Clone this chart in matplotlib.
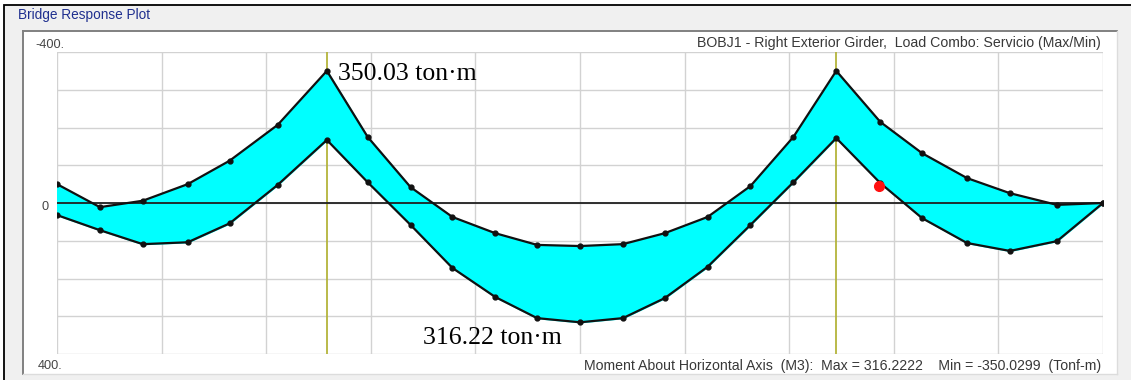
import matplotlib.pyplot as plt
from matplotlib.patches import Rectangle

# estaciones a lo largo del puente (0-100) y envolventes de momento (Tonf-m)
estaciones = [0.0, 4.1, 8.2, 12.5, 16.5, 21.1, 25.8,
              29.7, 33.8, 37.8, 41.9, 45.9, 50.0, 54.1, 58.1, 62.2, 66.3, 70.4, 74.5,
              78.7, 82.7, 87.0, 91.1, 95.6, 100.0]
momento_min = [-50, 11, -6, -50, -112, -207, -350,
               -175, -42, 37, 80, 111, 114, 109, 80, 37, -45, -175, -350,
               -215, -132, -66, -26, 5, 0]
momento_max = [32, 72, 109, 104, 54, -48, -167,
               -55, 58, 172, 249, 305, 316, 305, 252, 169, 58, -55, -172,
               -53, 40, 106, 127, 101, 0]
apoyos = [25.8, 74.5]
punto_rojo_x, punto_rojo_y = 78.6, -45

etiqueta_min = '350.03 ton·m'
etiqueta_max = '316.22 ton·m'
titulo = 'BOBJ1 - Right Exterior Girder,  Load Combo: Servicio (Max/Min)'
pie = 'Moment About Horizontal Axis  (M3):  Max = 316.2222    Min = -350.0299  (Tonf-m)'

W, H = 1131, 380
fig = plt.figure(figsize=(W / 100, H / 100), dpi=100)
fig.patch.set_facecolor('white')

# marco de la ventana (coordenadas en pixeles)
fondo = fig.add_axes([0, 0, 1, 1])
fondo.set_xlim(0, W)
fondo.set_ylim(H, 0)
fondo.axis('off')
fondo.add_patch(Rectangle((4, 5), 1200, 400, facecolor='#f0f0f0', edgecolor='black', lw=1.3))
fondo.add_patch(Rectangle((23, 31), 1094, 343, facecolor='white', edgecolor='none'))
fondo.plot([23, 1117], [31, 31], color='#808080', lw=1.4)
fondo.plot([23, 23], [31, 374], color='#808080', lw=1.4)
fondo.plot([23, 1117], [374, 374], color='#dcdcdc', lw=1)
fondo.plot([1117, 1117], [31, 374], color='#dcdcdc', lw=1)
fondo.text(18, 15, 'Bridge Response Plot', color='#1f2f8f', fontsize=9.8,
           family='Liberation Sans', va='center')
fondo.text(35, 45, '-400.', color='#454545', fontsize=9.2, family='Liberation Sans', va='center')
fondo.text(41, 207, '0', color='#454545', fontsize=9.2, family='Liberation Sans', va='center')
fondo.text(38, 366, '400.', color='#454545', fontsize=9.2, family='Liberation Sans', va='center')
fondo.text(1101, 43, titulo, color='#383838', fontsize=10.2, family='Liberation Sans',
           ha='right', va='center')
fondo.text(1101, 366, pie, color='#383838', fontsize=10.2, family='Liberation Sans',
           ha='right', va='center')

ax = fig.add_axes([57 / W, 1 - 354 / H, (1103 - 57) / W, (354 - 52) / H])
ax.set_xlim(0, 100)
ax.set_ylim(400, -400)
ax.set_facecolor('none')
ax.set_xticks(range(0, 101, 10))
ax.set_yticks(range(-400, 401, 100))
ax.tick_params(length=0, labelbottom=False, labelleft=False)
ax.grid(True, color='#d2d2d2', lw=1)
ax.set_axisbelow(True)
for s in ax.spines.values():
    s.set_visible(False)

for a in apoyos:
    ax.axvline(a, color='#b4b43c', lw=1.3, zorder=1)

ax.fill_between(estaciones, momento_min, momento_max, color='#00ffff', zorder=2)
ax.axhline(0, color='#202020', lw=1.3, zorder=3)
ax.plot(estaciones, momento_min, color='#111111', lw=1.6, marker='o', ms=3.5, zorder=4)
ax.plot(estaciones, momento_max, color='#111111', lw=1.6, marker='o', ms=3.5, zorder=4)
ax.plot(punto_rojo_x, punto_rojo_y, 'o', color='#ff1010', ms=7, zorder=5)

ax.text(26.9, -343, etiqueta_min, family='Liberation Serif', fontsize=18.5, va='center', zorder=6)
ax.text(35.0, 358, etiqueta_max, family='Liberation Serif', fontsize=18.5, va='center', zorder=6)

fig.savefig('out.png', dpi=100)
